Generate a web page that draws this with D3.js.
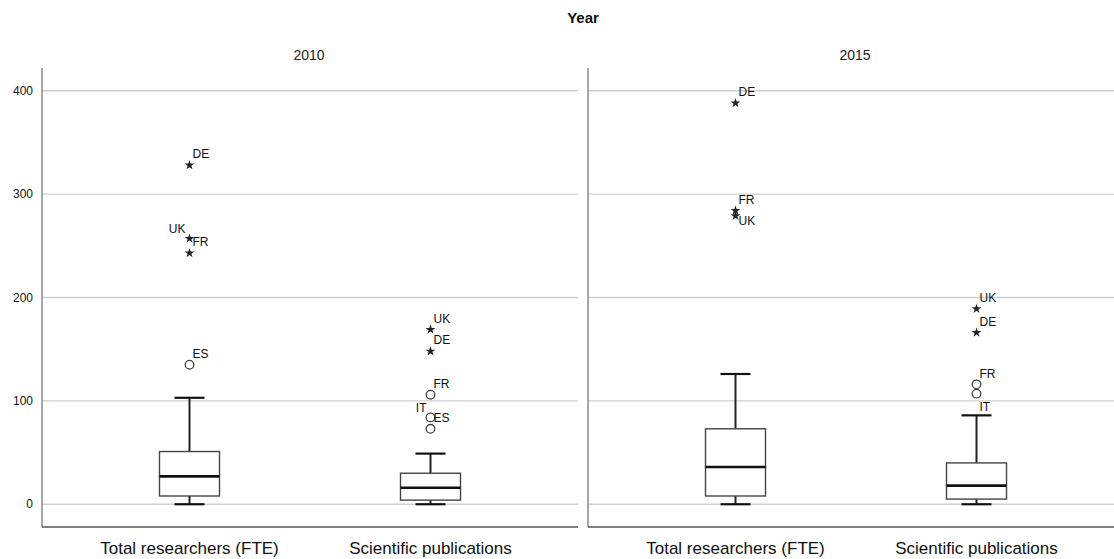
<!DOCTYPE html>
<html><head><meta charset="utf-8">
<script src="https://cdn.jsdelivr.net/npm/d3@7"></script>
<style>body{margin:0;background:#fff;} svg{display:block;font-family:"Liberation Sans",Arial,sans-serif;}</style>
</head><body>
<svg id="c" width="1114" height="559"></svg>
<script>
const years = ["2010", "2015"];
const categories = ["Total researchers (FTE)", "Scientific publications"];
const yTicks = [0, 100, 200, 300, 400];
// box stats per year per category: [lowWhisker, q1, median, q3, highWhisker]
const stats2010 = [[0, 8, 27, 51, 103], [0, 4, 16, 30, 49]];
const stats2015 = [[0, 8, 36, 73, 126], [0, 5, 18, 40, 86]];
// outliers: {cat, value, label, type: "o" circle / "*" extreme, pos}
const outliers2010 = [
  {cat: 0, value: 328, label: "DE", type: "*", pos: "ur"},
  {cat: 0, value: 257, label: "UK", type: "*", pos: "ul"},
  {cat: 0, value: 243, label: "FR", type: "*", pos: "ur"},
  {cat: 0, value: 135, label: "ES", type: "o", pos: "ur"},
  {cat: 1, value: 169, label: "UK", type: "*", pos: "ur"},
  {cat: 1, value: 148, label: "DE", type: "*", pos: "ur"},
  {cat: 1, value: 106, label: "FR", type: "o", pos: "ur"},
  {cat: 1, value: 84, label: "IT", type: "o", pos: "ul"},
  {cat: 1, value: 73, label: "ES", type: "o", pos: "ur"}
];
const outliers2015 = [
  {cat: 0, value: 388, label: "DE", type: "*", pos: "ur"},
  {cat: 0, value: 284, label: "FR", type: "*", pos: "ur"},
  {cat: 0, value: 279, label: "UK", type: "*", pos: "dr"},
  {cat: 1, value: 189, label: "UK", type: "*", pos: "ur"},
  {cat: 1, value: 166, label: "DE", type: "*", pos: "ur"},
  {cat: 1, value: 116, label: "FR", type: "o", pos: "ur"},
  {cat: 1, value: 107, label: "IT", type: "o", pos: "d"}
];
const allStats = [stats2010, stats2015];
const allOutliers = [outliers2010, outliers2015];

const svg = d3.select("#c");
const plotTop = 68, plotBottom = 527;
const panelW = 536;
const panelX = [42, 588];
const y = d3.scaleLinear().domain([-22, 422]).range([plotBottom, plotTop]);

svg.append("text").attr("x", 583).attr("y", 23).attr("text-anchor", "middle")
  .attr("font-weight", "bold").attr("font-size", 15).attr("fill", "#111").text("Year");

// y tick labels
svg.append("g").selectAll("text").data(yTicks).join("text")
  .attr("x", 33).attr("y", d => y(d)).attr("dy", "0.35em").attr("text-anchor", "end")
  .attr("font-size", 12).attr("fill", "#111").text(d => d);

years.forEach((yr, i) => {
  const x0 = panelX[i];
  const g = svg.append("g").attr("transform", `translate(${x0},0)`);
  const x = d3.scalePoint().domain(categories).range([0, panelW]).padding(0.612);
  // header
  g.append("text").attr("x", 267).attr("y", 60).attr("text-anchor", "middle")
    .attr("font-size", 14).attr("fill", "#222").text(yr);
  // gridlines
  g.append("g").selectAll("line").data(yTicks).join("line")
    .attr("x1", 0).attr("x2", panelW).attr("y1", d => y(d)).attr("y2", d => y(d))
    .attr("stroke", "#cfcfcf").attr("stroke-width", 1.3);
  // axes
  g.append("line").attr("x1", 0).attr("x2", 0).attr("y1", plotTop).attr("y2", plotBottom)
    .attr("stroke", "#8a8a8a").attr("stroke-width", 1.5);
  g.append("line").attr("x1", 0).attr("x2", panelW).attr("y1", plotBottom).attr("y2", plotBottom)
    .attr("stroke", "#555").attr("stroke-width", 1.3);
  // x labels
  g.append("g").selectAll("text").data(categories).join("text")
    .attr("x", d => x(d)).attr("y", 554).attr("text-anchor", "middle")
    .attr("font-size", 17).attr("fill", "#111").text(d => d);
  // boxes
  const bw = 60, cap = 30;
  allStats[i].forEach((s, ci) => {
    const cx = x(categories[ci]);
    const b = g.append("g");
    b.append("line").attr("x1", cx).attr("x2", cx).attr("y1", y(s[0])).attr("y2", y(s[1]))
      .attr("stroke", "#222").attr("stroke-width", 2);
    b.append("line").attr("x1", cx).attr("x2", cx).attr("y1", y(s[3])).attr("y2", y(s[4]))
      .attr("stroke", "#222").attr("stroke-width", 2);
    [s[0], s[4]].forEach(v => b.append("line").attr("x1", cx - cap / 2).attr("x2", cx + cap / 2)
      .attr("y1", y(v)).attr("y2", y(v)).attr("stroke", "#111").attr("stroke-width", 2.2));
    b.append("rect").attr("x", cx - bw / 2).attr("y", y(s[3])).attr("width", bw)
      .attr("height", y(s[1]) - y(s[3])).attr("fill", "#fff").attr("stroke", "#444").attr("stroke-width", 1.4);
    b.append("line").attr("x1", cx - bw / 2).attr("x2", cx + bw / 2).attr("y1", y(s[2])).attr("y2", y(s[2]))
      .attr("stroke", "#111").attr("stroke-width", 2.6);
  });
  // outliers
  const star = d3.symbol().type(d3.symbolStar).size(30);
  allOutliers[i].forEach(o => {
    const cx = x(categories[o.cat]), cy = y(o.value);
    if (o.type === "*") {
      g.append("path").attr("d", star).attr("transform", `translate(${cx},${cy})`).attr("fill", "#222");
    } else {
      g.append("circle").attr("cx", cx).attr("cy", cy).attr("r", 4.3)
        .attr("fill", "none").attr("stroke", "#444").attr("stroke-width", 1.3);
    }
    let dx = 3, dy = -11, anchor = "start";
    if (o.pos === "ul") { dx = -4; dy = -10; anchor = "end"; }
    if (o.pos === "dr") { dx = 3; dy = 5; }
    if (o.pos === "d") { dx = 3; dy = 13; }
    g.append("text").attr("x", cx + dx).attr("y", cy + dy).attr("dy", "0.35em")
      .attr("text-anchor", anchor).attr("font-size", 12).attr("fill", "#111").text(o.label);
  });
});
</script>
</body></html>
